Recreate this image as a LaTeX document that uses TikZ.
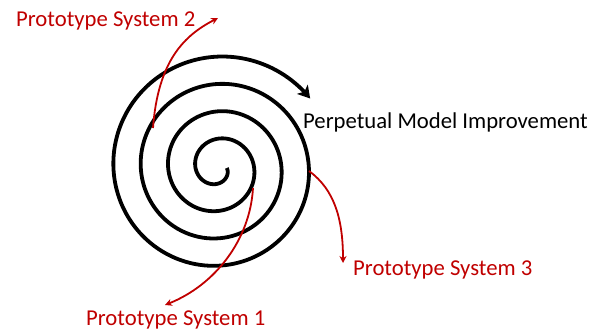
\documentclass[tikz,border=0pt]{standalone}
\usepackage{fontspec}
\setmainfont{Carlito}
\usetikzlibrary{arrows.meta}
\definecolor{pred}{RGB}{192,0,0}
\tikzset{
  lbl/.style={inner sep=0pt, anchor=base west, font=\fontsize{22.7}{26}\selectfont},
  redlbl/.style={lbl, text=pred},
  redarrow/.style={draw=pred, line width=1.8pt, -{Stealth[length=7pt,width=7pt]}},
  spiral/.style={line width=3.8pt, -{Stealth[length=12pt,width=14pt,inset=3pt]}}
}
\begin{document}
\begin{tikzpicture}[x=1pt,y=1pt]
\useasboundingbox (0,0) rectangle (601,330);
% spiral
\draw[spiral] plot[domain=0:1403, samples=400, smooth, variable=\t]
  ({218 + (8.8+0.076*\t)*cos(\t)}, {162 - (8.8+0.076*\t)*sin(\t)});
% labels
\node[lbl] (pmi) at (303,202) {Perpetual Model Improvement};
\node[redlbl] (p2) at (16,303) {Prototype System 2};
\node[redlbl] (p1) at (86,4.5) {Prototype System 1};
\node[redlbl] (p3) at (353,54.5) {Prototype System 3};
% arrow coordinates
\coordinate (s2) at (153,202);
\coordinate (e2) at (218,312);
\coordinate (s1) at (253,142);
\coordinate (e1) at (165,25);
\coordinate (s3) at (309,159);
\coordinate (e3) at (343,67);
\draw[redarrow] (s2) .. controls (158,270) and (185,295) .. (e2);
\draw[redarrow] (s1) .. controls (250,90) and (215,45) .. (e1);
\draw[redarrow] (s3) .. controls (335,140) and (343,110) .. (e3);
\end{tikzpicture}
\end{document}
